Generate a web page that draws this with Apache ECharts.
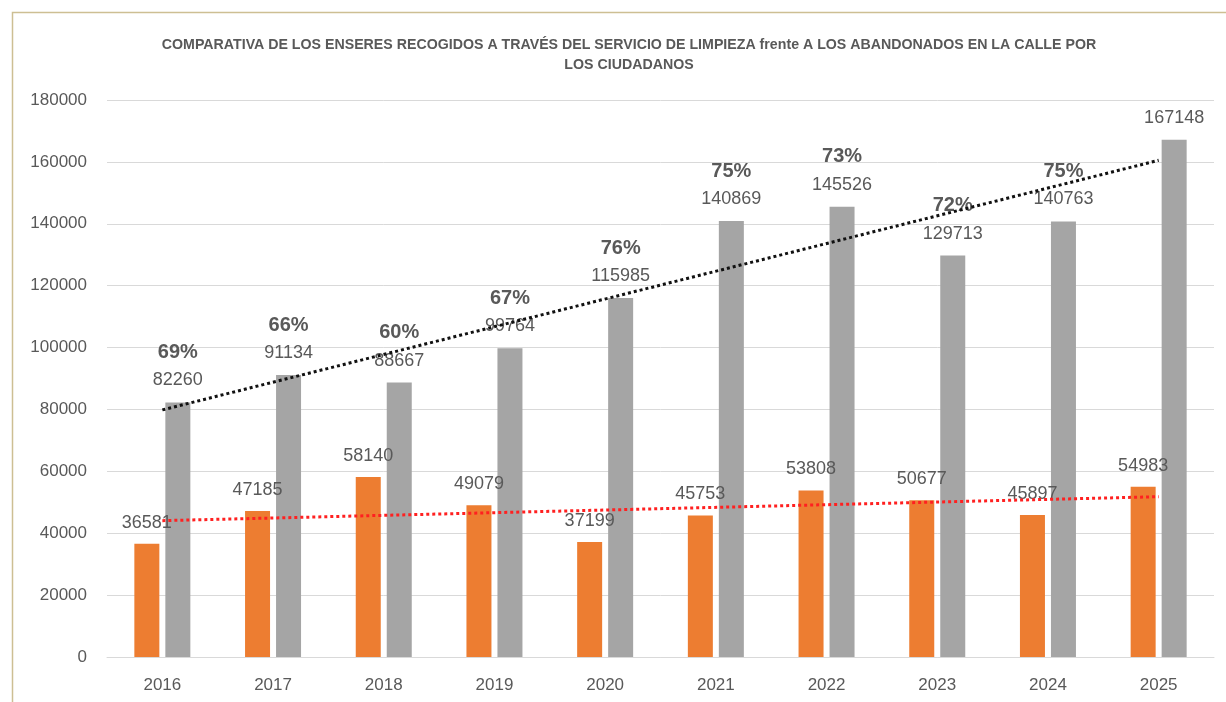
<!DOCTYPE html>
<html><head><meta charset="utf-8">
<script src="https://cdn.jsdelivr.net/npm/echarts@6/dist/echarts.min.js"></script>
<style>html,body{margin:0;padding:0;background:#fff}#c{width:1226px;height:702px}</style>
</head><body><div id="c"></div>
<script>
const years = ['2016','2017','2018','2019','2020','2021','2022','2023','2024','2025'];
const abandoned = [36581,47185,58140,49079,37199,45753,53808,50677,45897,54983];
const collected = [82260,91134,88667,99764,115985,140869,145526,129713,140763,167148];
const shareLabels = ['69%','66%','60%','67%','76%','75%','73%','72%','75%',''];
const collectedTrend = [79850,null,null,null,null,null,null,null,null,160510];
const abandonedTrend = [44060,null,null,null,null,null,null,null,null,51800];
const yTicks = [0,20000,40000,60000,80000,100000,120000,140000,160000,180000];

const chart = echarts.init(document.getElementById('c'));
const txt = '#595959';
const font = 'Liberation Sans';
chart.setOption({
  animation:false,
  backgroundColor:'#fff',
  title:{
    text:'COMPARATIVA DE LOS ENSERES RECOGIDOS A TRAVÉS DEL SERVICIO DE LIMPIEZA frente A LOS ABANDONADOS EN LA CALLE POR\nLOS CIUDADANOS',
    left:624, top:30, textAlign:'center',
    textStyle:{fontFamily:font,fontSize:14.2,fontWeight:'bold',color:txt,lineHeight:20}
  },
  graphic:[{type:'rect',shape:{x:12.5,y:12.5,width:1400,height:900},style:{fill:'none',stroke:'#cdbf93',lineWidth:1.5},silent:true}],
  grid:{left:107,right:12,top:100,bottom:45},
  xAxis:{type:'category',data:years,
    axisLine:{lineStyle:{color:'#d9d9d9'}},axisTick:{show:false},
    axisLabel:{color:txt,fontFamily:font,fontSize:17,margin:20}},
  yAxis:{type:'value',min:yTicks[0],max:yTicks[yTicks.length-1],interval:yTicks[1]-yTicks[0],
    axisLine:{show:false},axisTick:{show:false},
    splitLine:{lineStyle:{color:'#d9d9d9',width:1}},
    axisLabel:{color:txt,fontFamily:font,fontSize:17,margin:20,formatter:v=>String(v)}},
  series:[
    {type:'bar',data:abandoned,barWidth:25,barGap:'24%',itemStyle:{color:'#ED7D31'},
      label:{show:true,position:'top',distance:12,color:txt,fontFamily:font,fontSize:18}},
    {type:'bar',data:collected,barWidth:25,itemStyle:{color:'#A5A5A5'},
      label:{show:true,position:'top',distance:8,color:txt,fontFamily:font,
        formatter:p=>shareLabels[p.dataIndex]?('{p|'+shareLabels[p.dataIndex]+'}\n{v|'+p.value+'}'):('{v|'+p.value+'}'),
        rich:{p:{fontFamily:font,fontSize:20,fontWeight:'bold',color:txt,lineHeight:28,align:'center'},
              v:{fontFamily:font,fontSize:18,color:txt,lineHeight:28,align:'center'}}}},
    {type:'line',data:collectedTrend,connectNulls:true,symbol:'none',z:5,
      lineStyle:{color:'#111',width:3,type:'dotted'}},
    {type:'line',data:abandonedTrend,connectNulls:true,symbol:'none',z:5,
      lineStyle:{color:'#ff2020',width:3,type:'dotted'}}
  ]
});
</script></body></html>
